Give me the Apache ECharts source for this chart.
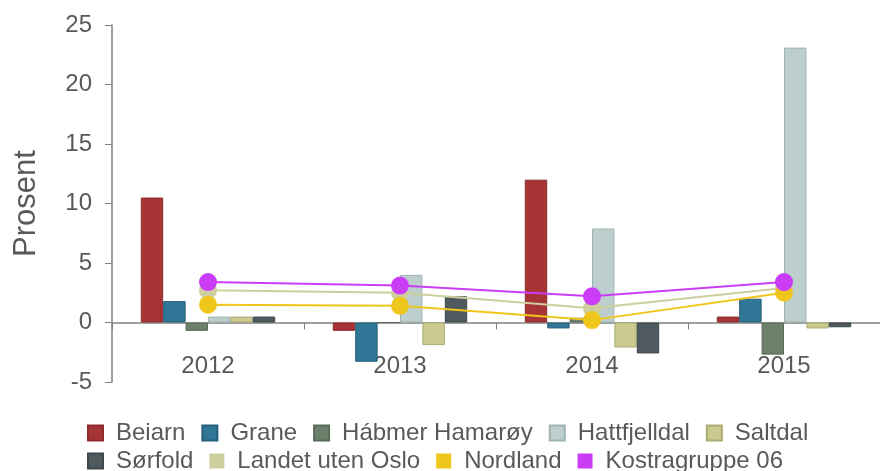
<!DOCTYPE html>
<html lang="no">
<head>
    <meta charset="UTF-8">
    <title>Prosent</title>
    <script src="https://cdn.jsdelivr.net/npm/echarts@6/dist/echarts.min.js"></script>
    <style>
        html, body { margin: 0; padding: 0; background: #fff; }
        #myChart { width: 880px; height: 471px; }
    </style>
</head>
<body>
<div id="myChart"></div>
<script type="text/javascript">
    var years = ['2012', '2013', '2014', '2015'];

    // kommuner (stolper)
    var beiarn = [10.5, -0.7, 12.0, 0.5];
    var grane = [1.8, -3.3, -0.5, 2.0];
    var habmerHamaroy = [-0.7, 0, 0.4, -2.7];
    var hattfjelldal = [0.5, 4.0, 7.9, 23.1];
    var saltdal = [0.5, -1.9, -2.1, -0.5];
    var sorfold = [0.5, 2.2, -2.6, -0.4];

    // sammenligning (linjer)
    var landetUtenOslo = [2.7, 2.5, 1.2, 2.9];
    var nordland = [1.5, 1.4, 0.2, 2.5];
    var kostragruppe06 = [3.4, 3.1, 2.2, 3.4];

    var yTicks = { min: -5, max: 25, interval: 5 };

    var legendRow1 = ['Beiarn', 'Grane', 'Hábmer Hamarøy', 'Hattfjelldal', 'Saltdal'];
    var legendRow2 = ['Sørfold', 'Landet uten Oslo', 'Nordland', 'Kostragruppe 06'];

    var txt = '#595959';
    var font = 'Liberation Sans, Arial, sans-serif';

    function bar(name, data, color, border) {
        return {
            name: name, type: 'bar', data: data,
            barGap: 0, barCategoryGap: '30%',
            itemStyle: { color: color, borderColor: border, borderWidth: 1 }
        };
    }

    function line(name, data, color) {
        return {
            name: name, type: 'line', data: data,
            symbol: 'circle', symbolSize: 18,
            lineStyle: { color: color, width: 2 },
            itemStyle: { color: color }
        };
    }

    function legendRow(data, top) {
        return {
            left: 82, top: top, orient: 'horizontal',
            icon: 'rect', itemWidth: 15, itemHeight: 15, itemGap: 16,
            textStyle: { fontSize: 24, color: txt, fontFamily: font, padding: [0, 0, 0, 8] },
            data: data
        };
    }

    var myChart = echarts.init(document.getElementById('myChart'));
    var option = {
        animation: false,
        textStyle: { fontFamily: font },
        grid: { left: 112, right: -8, top: 25, bottom: 89, containLabel: false },
        legend: [legendRow(legendRow1, 416), legendRow(legendRow2, 444)],
        xAxis: {
            type: 'category', data: years,
            axisLine: { onZero: true, lineStyle: { color: '#808080', width: 1.5 } },
            axisTick: { show: true, length: 7, lineStyle: { color: '#808080' } },
            axisLabel: { fontSize: 24, color: txt, margin: -28 },
            splitLine: { show: false }
        },
        yAxis: {
            type: 'value', min: yTicks.min, max: yTicks.max, interval: yTicks.interval,
            name: 'Prosent', nameLocation: 'middle', nameGap: 70, nameRotate: 90,
            nameTextStyle: { fontSize: 31, color: txt },
            axisLine: { show: true, lineStyle: { color: '#808080', width: 1.5 } },
            axisTick: { show: true, length: 7, lineStyle: { color: '#808080' } },
            axisLabel: { fontSize: 24, color: txt, margin: 20 },
            splitLine: { show: false }
        },
        series: [
            bar('Beiarn', beiarn, '#a63335', '#8e2a2c'),
            bar('Grane', grane, '#2f7697', '#265f79'),
            bar('Hábmer Hamarøy', habmerHamaroy, '#6c806c', '#596a59'),
            bar('Hattfjelldal', hattfjelldal, '#bccfce', '#9fb3b2'),
            bar('Saltdal', saltdal, '#cbca8f', '#adac76'),
            bar('Sørfold', sorfold, '#4e5a5e', '#3e484b'),
            line('Landet uten Oslo', landetUtenOslo, '#cdd09e'),
            line('Nordland', nordland, '#efc61c'),
            line('Kostragruppe 06', kostragruppe06, '#cb3cf7')
        ]
    };
    myChart.setOption(option);
</script>
</body>
</html>
